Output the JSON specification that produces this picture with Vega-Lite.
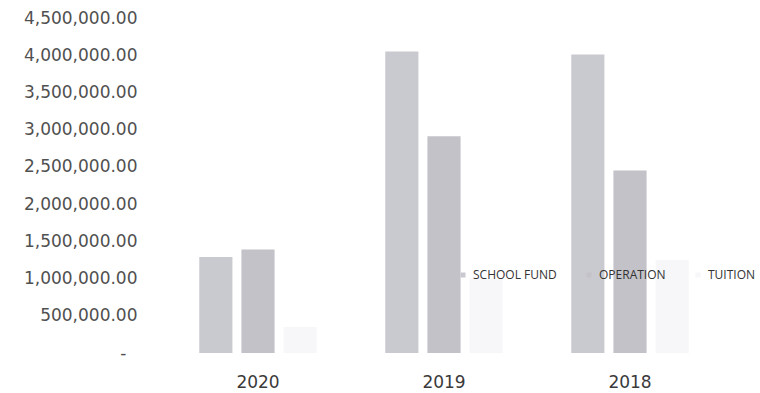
{
  "$schema": "https://vega.github.io/schema/vega-lite/v6.json",
  "autosize": {"type": "none"},
  "padding": {"left": 165, "top": 18, "right": 37, "bottom": 40},
  "width": 558,
  "height": 335,
  "background": "white",
  "config": {"view": {"stroke": null}},
  "data": {"values": [
    {"year": "2020", "series": "SCHOOL FUND", "amount": 1290000},
    {"year": "2020", "series": "OPERATION", "amount": 1390000},
    {"year": "2020", "series": "TUITION", "amount": 350000},
    {"year": "2019", "series": "SCHOOL FUND", "amount": 4050000},
    {"year": "2019", "series": "OPERATION", "amount": 2910000},
    {"year": "2019", "series": "TUITION", "amount": 1000000},
    {"year": "2018", "series": "SCHOOL FUND", "amount": 4010000},
    {"year": "2018", "series": "OPERATION", "amount": 2450000},
    {"year": "2018", "series": "TUITION", "amount": 1250000}
  ]},
  "mark": {"type": "bar"},
  "encoding": {
    "x": {
      "field": "year", "type": "nominal", "sort": ["2020", "2019", "2018"],
      "scale": {"paddingInner": 0.32, "paddingOuter": 0.16},
      "axis": {"title": null, "labelAngle": 0, "domain": false, "ticks": false, "labelPadding": 21,
               "labelFont": "DejaVu Sans", "labelFontSize": 17, "labelColor": "#3a3a3a"}
    },
    "xOffset": {
      "field": "series", "type": "nominal", "sort": ["SCHOOL FUND", "OPERATION", "TUITION"],
      "scale": {"paddingInner": 0.214, "paddingOuter": 0.107}
    },
    "y": {
      "field": "amount", "type": "quantitative",
      "scale": {"domain": [0, 4500000], "nice": false},
      "axis": {"title": null, "grid": false, "domain": false, "ticks": false,
               "labelPadding": {"condition": {"test": "datum.value == 0", "value": 39}, "value": 28},
               "values": [0, 500000, 1000000, 1500000, 2000000, 2500000, 3000000, 3500000, 4000000, 4500000],
               "labelExpr": "datum.value == 0 ? '-' : format(datum.value, ',.2f')",
               "labelFont": "DejaVu Sans", "labelFontSize": 17, "labelColor": "#505050"}
    },
    "color": {
      "field": "series", "type": "nominal",
      "sort": ["SCHOOL FUND", "OPERATION", "TUITION"],
      "scale": {"domain": ["SCHOOL FUND", "OPERATION", "TUITION"], "range": ["#c9c9d0", "#c2c2c8", "#f7f7fa"]},
      "legend": {
        "title": null, "orient": "none", "legendX": 292, "legendY": 251, "direction": "horizontal",
        "labelFont": "Open Sans", "labelFontSize": 12, "labelColor": "#333333",
        "symbolType": "square", "symbolSize": 25, "columnPadding": 26, "labelOffset": 4
      }
    }
  }
}
